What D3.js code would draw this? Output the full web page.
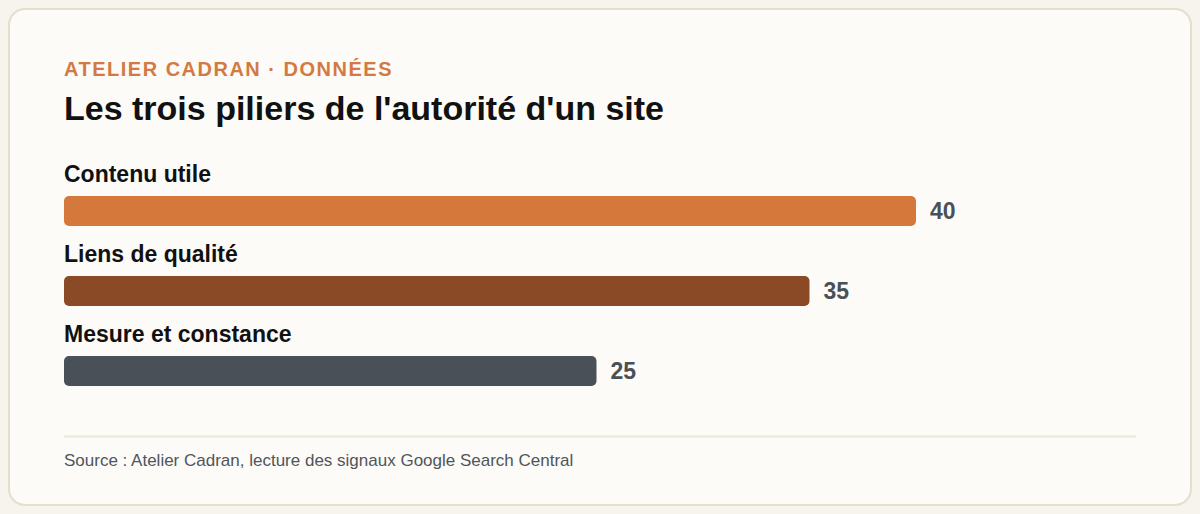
<html>
<head>
<meta charset="utf-8">
<script src="https://cdn.jsdelivr.net/npm/d3@7"></script>
<style>
  body { margin: 0; background: #f6f4ec; font-family: "Liberation Sans", Arial, sans-serif; }
</style>
</head>
<body>
<div id="chart"></div>
<script>
  // chart values
  var categories = ["Contenu utile", "Liens de qualité", "Mesure et constance"];
  var values = [40, 35, 25];
  var colors = ["#d4783c", "#8b4a26", "#4a5058"];

  var kicker = "ATELIER CADRAN · DONNÉES";
  var title = "Les trois piliers de l'autorité d'un site";
  var source = "Source : Atelier Cadran, lecture des signaux Google Search Central";

  var W = 1200, H = 514;
  var svg = d3.select("#chart").append("svg")
    .attr("width", W)
    .attr("height", H);

  // card
  svg.append("rect")
    .attr("x", 9).attr("y", 9)
    .attr("width", W - 18).attr("height", H - 18)
    .attr("rx", 16).attr("ry", 16)
    .style("fill", "#fcfbf7")
    .style("stroke", "#e2dfca")
    .style("stroke-width", 2);

  svg.append("text")
    .attr("x", 64).attr("y", 76)
    .style("font-size", "20px")
    .style("font-weight", "bold")
    .style("letter-spacing", "1.5px")
    .style("fill", "#d27a42")
    .text(kicker);

  svg.append("text")
    .attr("x", 64).attr("y", 120)
    .style("font-size", "34px")
    .style("font-weight", "bold")
    .style("fill", "#111")
    .text(title);

  // scales: bars start at 64, 40 ends at 916
  var x = d3.scaleLinear().domain([0, 40]).range([64, 916]);
  var y = d3.scaleBand().domain(categories).range([156, 396]).paddingInner(0);

  var rows = svg.selectAll("g.row")
    .data(categories)
    .enter().append("g")
    .attr("class", "row")
    .attr("transform", function(d) { return "translate(0," + y(d) + ")"; });

  rows.append("text")
    .attr("x", 64).attr("y", 26)
    .style("font-size", "23px")
    .style("font-weight", "bold")
    .style("fill", "#111")
    .text(function(d) { return d; });

  rows.append("rect")
    .attr("x", x(0)).attr("y", 40)
    .attr("width", function(d, i) { return x(values[i]) - x(0); })
    .attr("height", 30)
    .attr("rx", 5).attr("ry", 5)
    .style("fill", function(d, i) { return colors[i]; });

  rows.append("text")
    .attr("x", function(d, i) { return x(values[i]) + 14; })
    .attr("y", 55)
    .attr("dy", "0.36em")
    .style("font-size", "23px")
    .style("font-weight", "bold")
    .style("fill", "#4a5058")
    .text(function(d, i) { return values[i]; });

  // footer
  svg.append("line")
    .attr("x1", 64).attr("x2", 1136)
    .attr("y1", 436.5).attr("y2", 436.5)
    .style("stroke", "#ebe7d8")
    .style("stroke-width", 2);

  svg.append("text")
    .attr("x", 64).attr("y", 466)
    .style("font-size", "17px")
    .style("fill", "#50555c")
    .text(source);
</script>
</body>
</html>
